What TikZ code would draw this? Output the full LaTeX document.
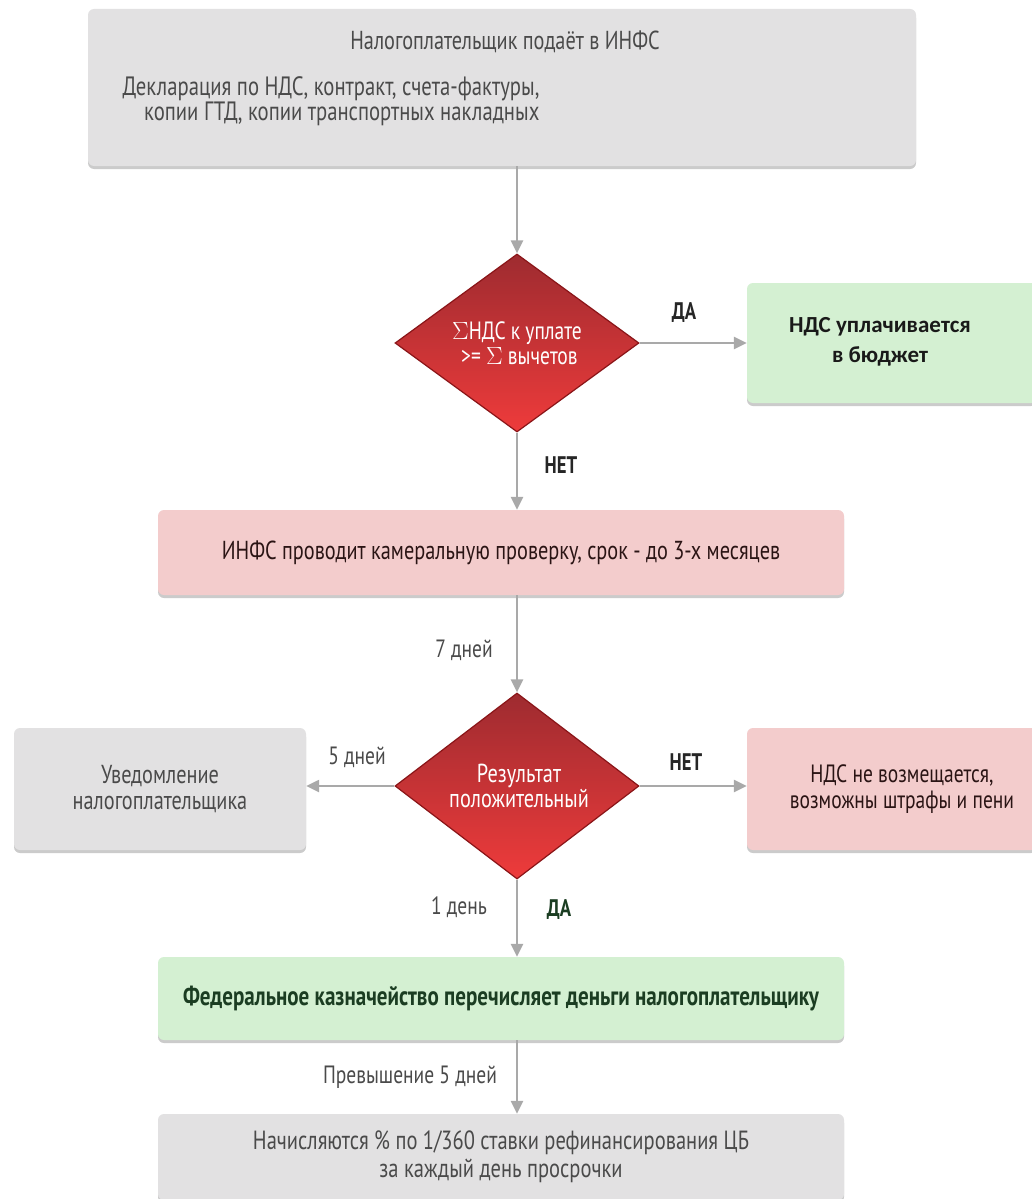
\documentclass[tikz,border=0pt]{standalone}
\usepackage{fontspec}
\setmainfont{PT Sans}[FakeStretch=0.78]
\newfontfamily\calib{Carlito}
\usetikzlibrary{shapes.geometric,arrows.meta,shadows}
\definecolor{boxgray}{HTML}{E2E1E2}
\definecolor{boxpink}{HTML}{F3CCCC}
\definecolor{boxgreen}{HTML}{D4F0D2}
\definecolor{arrgray}{HTML}{A9A9A9}
\definecolor{txtgray}{HTML}{4A4A4A}
\definecolor{txtdark}{HTML}{2A1414}
\definecolor{txtgreen}{HTML}{1B3D22}
\definecolor{redtop}{HTML}{9E2B30}
\definecolor{redbot}{HTML}{EE3B3B}
\definecolor{redline}{HTML}{8A1518}
\tikzset{
  box/.style={rectangle, rounded corners=6pt, inner sep=0pt, align=center,
     drop shadow={shadow xshift=0pt, shadow yshift=-3pt, fill=black!25, opacity=0.8}},
  graybox/.style={box, fill=boxgray, text=txtgray},
  pinkbox/.style={box, fill=boxpink, text=txtdark},
  greenbox/.style={box, fill=boxgreen, text=txtgreen},
  decide/.style={diamond, inner sep=0pt, minimum width=244pt, minimum height=178pt,
     top color=redtop, bottom color=redbot, draw=redline, line width=1.2pt,
     text=white, align=center},
  conn/.style={draw=arrgray, line width=2.4pt, -{Triangle[length=13pt,width=12pt]}},
  lbl/.style={font=\fontsize{25}{28}\selectfont, text=txtgray},
  lbldark/.style={font=\bfseries\fontsize{24}{28}\selectfont, text=black!85},
}
\begin{document}
\begin{tikzpicture}[x=1pt,y=-1pt, font=\fontsize{26}{30}\selectfont]
\useasboundingbox[fill=white] (0,0) rectangle (1032,1199);

% top box
\node[graybox, minimum width=828pt, minimum height=157pt] (top) at (502,87.5) {};
\node[text=txtgray, font=\fontsize{26}{30}\selectfont] (toptitle) at (505,42) {Налогоплательщик подаёт в ИНФС};
\node[text=txtgray, align=right, font=\fontsize{26.5}{23}\selectfont] (toptext) at (331,101)
  {Декларация по НДС, контракт, счета-фактуры,\\копии ГТД, копии транспортных накладных};

% decision 1
\node[decide] (d1) at (517,343) {};
\node[text=white, align=left, font=\fontsize{25}{25}\selectfont] (d1t) at (517,343)
  {$\Sigma$НДС к уплате\\\hspace*{9pt}>= $\Sigma$ вычетов};

% green box 1
\node[greenbox, minimum width=290pt, minimum height=120pt] (g1) at (892,343) {};
\node[text=black!90, font=\calib\bfseries\fontsize{23}{30}\selectfont, align=center] (g1t) at (880,342)
  {НДС уплачивается\\в бюджет};

% pink box
\node[pinkbox, minimum width=686pt, minimum height=85pt, font=\fontsize{26}{30}\selectfont] (p1) at (501,552.5)
  {ИНФС проводит камеральную проверку, срок - до 3-х месяцев};

% decision 2
\node[decide, minimum height=186pt] (d2) at (517,786) {};
\node[text=white, align=center, font=\fontsize{26}{25}\selectfont] (d2t) at (519,786)
  {Результат\\положительный};

% left box
\node[graybox, minimum width=292pt, minimum height=122pt, font=\fontsize{26}{26}\selectfont] (l1) at (160,789)
  {Уведомление\\налогоплательщика};

% right box
\node[pinkbox, minimum width=290pt, minimum height=122pt] (r1) at (892,789) {};
\node[text=txtdark, align=center, font=\fontsize{25}{26}\selectfont] (r1t) at (902,789)
  {НДС не возмещается,\\возможны штрафы и пени};

% green box 2
\node[greenbox, minimum width=686pt, minimum height=83pt, font=\bfseries\fontsize{27}{30}\selectfont] (g2) at (501,998.5)
  {Федеральное казначейство перечисляет деньги налогоплательщику};

% bottom box
\node[graybox, minimum width=686pt, minimum height=86pt, font=\fontsize{26.3}{28}\selectfont] (b1) at (501,1157)
  {Начисляются \% по 1/360 ставки рефинансирования ЦБ\\за каждый день просрочки};

% connectors
\draw[conn] (top.south -| d1.north) -- (d1.north);
\draw[conn] (d1.east) -- (d1.east -| g1.west);
\draw[conn] (d1.south) -- (d1.south |- p1.north);
\draw[conn] (d1.south |- p1.south) -- (d2.north);
\draw[conn] (d2.west) -- (d2.west -| l1.east);
\draw[conn] (d2.east) -- (d2.east -| r1.west);
\draw[conn] (d2.south) -- (d2.south |- g2.north);
\draw[conn] (d2.south |- g2.south) -- (d2.south |- b1.north);

% labels
\node[lbldark] (la) at (684,313) {ДА};
\node[lbldark] (lb) at (561,465) {НЕТ};
\node[lbl] (lc) at (464,650) {7 дней};
\node[lbl] (ld) at (357,757) {5 дней};
\node[lbldark] (le) at (686,762) {НЕТ};
\node[lbl] (lf) at (459,907) {1 день};
\node[lbldark, text=txtgreen] (lg) at (559,910) {ДА};
\node[lbl] (lh) at (410,1077) {Превышение 5 дней};
\end{tikzpicture}
\end{document}
